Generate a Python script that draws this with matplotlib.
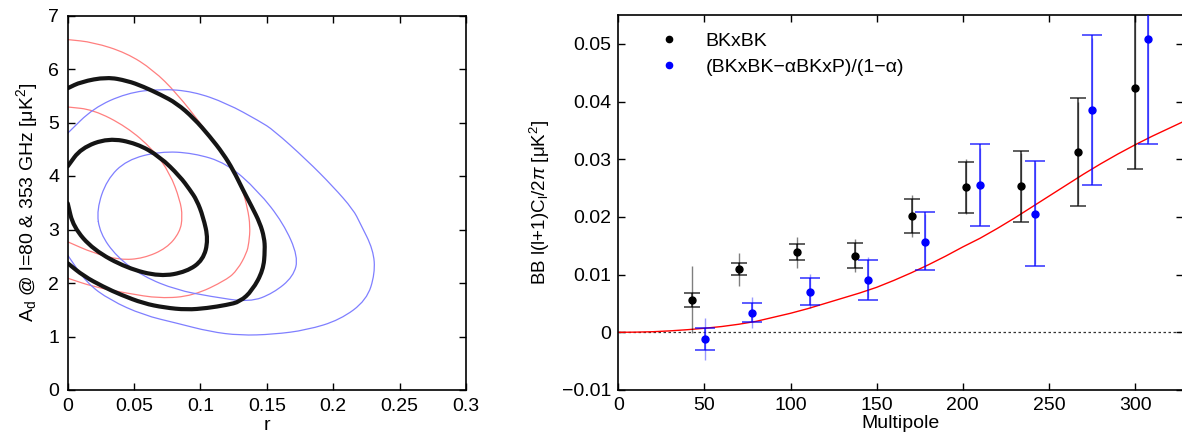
import numpy as np
import matplotlib
matplotlib.use("Agg")
import matplotlib.pyplot as plt
from matplotlib.path import Path
from matplotlib.patches import PathPatch

plt.rcParams['font.family'] = ['Liberation Sans', 'DejaVu Sans']
plt.rcParams['mathtext.fontset'] = 'custom'
plt.rcParams['mathtext.rm'] = 'Liberation Sans'
plt.rcParams['mathtext.it'] = 'Liberation Sans:italic'
plt.rcParams['mathtext.bf'] = 'Liberation Sans:bold'

# ---------------- Left panel: contours (r, A_d) traced ----------------
black_outer_r = [0, 0.010, 0.0294, 0.045, 0.057, 0.070, 0.082, 0.095, 0.107, 0.117, 0.1247, 0.132, 0.1386,
                 0.1448, 0.148, 0.1486, 0.1473, 0.139, 0.1298, 0.1198, 0.105, 0.0896, 0.073, 0.057, 0.040,
                 0.0268, 0.012, 0]
black_outer_A = [5.64, 5.76, 5.85, 5.78, 5.67, 5.52, 5.36, 5.08, 4.74, 4.42, 4.11, 3.74, 3.43,
                 3.12, 2.85, 2.62, 2.24, 1.86, 1.65, 1.59, 1.53, 1.50, 1.54, 1.62, 1.78,
                 1.93, 2.13, 2.37]

black_inner_r = [0, 0.010, 0.0306, 0.052, 0.0695, 0.0846, 0.0921, 0.0972, 0.102, 0.1059, 0.102, 0.0896,
                 0.0695, 0.0444, 0.0193, 0.0042, 0]
black_inner_A = [4.18, 4.52, 4.71, 4.61, 4.36, 3.99, 3.74, 3.55, 3.24, 2.81, 2.43, 2.21,
                 2.12, 2.28, 2.62, 3.05, 3.49]

red_outer_r = [0, 0.0193, 0.0444, 0.0645, 0.082, 0.102, 0.1198, 0.131, 0.1355, 0.1375, 0.1365, 0.1348,
               0.128, 0.1198, 0.0946, 0.0695, 0.0444, 0.0193, 0]
red_outer_A = [6.55, 6.50, 6.30, 5.98, 5.55, 4.92, 4.30, 3.80, 3.40, 3.05, 2.75, 2.56,
               2.25, 2.06, 1.76, 1.71, 1.81, 1.93, 2.09]

red_inner_r = [0, 0.0193, 0.0444, 0.0645, 0.077, 0.0846, 0.0865, 0.0845, 0.0746, 0.057, 0.0394, 0.0193, 0]
red_inner_A = [5.29, 5.24, 4.92, 4.49, 4.05, 3.55, 3.24, 2.95, 2.65, 2.46, 2.43, 2.56, 2.77]

blue_outer_r = [0, 0.0193, 0.0444, 0.0695, 0.0946, 0.1198, 0.1448, 0.1549, 0.180, 0.200, 0.2151, 0.2202,
                0.2302, 0.2315, 0.2252, 0.2051, 0.180, 0.1549, 0.1298, 0.1072, 0.082, 0.057, 0.0319,
                0.0143, 0]
blue_outer_A = [4.80, 5.27, 5.55, 5.63, 5.58, 5.36, 5.02, 4.86, 4.30, 3.80, 3.37, 3.12,
                2.62, 2.18, 1.68, 1.31, 1.12, 1.04, 1.02, 1.09, 1.25, 1.40, 1.68,
                2.00, 2.52]

blue_inner_r = [0.0218, 0.0294, 0.0444, 0.0695, 0.0946, 0.1198, 0.1435, 0.1624, 0.1737, 0.170, 0.1549,
                0.1370, 0.1072, 0.082, 0.057, 0.0369, 0.0243]
blue_inner_A = [3.37, 3.93, 4.30, 4.46, 4.43, 4.24, 3.72, 3.12, 2.49, 2.12, 1.81,
                1.64, 1.75, 1.87, 2.12, 2.49, 2.93]

left_xticks = [0, 0.05, 0.1, 0.15, 0.2, 0.25, 0.3]
left_xticklabels = ['0', '0.05', '0.1', '0.15', '0.2', '0.25', '0.3']
left_yticks = [0, 1, 2, 3, 4, 5, 6, 7]

# ---------------- Right panel: bandpowers ----------------
bk_ell = [42.5, 69.8, 103.7, 137.3, 170.3, 202.0, 234.0, 266.8, 299.8]
bk_val = [0.00554, 0.0110, 0.01384, 0.01326, 0.02013, 0.02514, 0.02532, 0.0312, 0.04227]
bk_cap_hi = [0.00675, 0.0120, 0.01528, 0.0154, 0.02318, 0.02958, 0.03143, 0.0406, 0.0570]
bk_cap_lo = [0.00433, 0.0100, 0.01246, 0.01113, 0.01713, 0.02065, 0.0192, 0.0219, 0.02826]
bk_thin_hi = [0.01153, 0.0138, 0.01644, 0.01615, 0.02388, 0.0300, 0.0310, 0.0400, 0.0565]
bk_thin_lo = [-0.0002, 0.0081, 0.01119, 0.01038, 0.01644, 0.0205, 0.0195, 0.0222, 0.0285]

bl_ell = [50.6, 77.9, 111.5, 145.2, 178.1, 210.0, 242.0, 275.0, 307.6]
bl_val = [-0.00115, 0.00334, 0.00698, 0.00905, 0.01574, 0.02555, 0.02059, 0.03847, 0.05087]
bl_cap_hi = [0.00081, 0.00502, 0.00934, 0.01251, 0.02082, 0.0327, 0.02976, 0.05156, 0.0600]
bl_cap_lo = [-0.0030, 0.00173, 0.00467, 0.00565, 0.01073, 0.0184, 0.01148, 0.02549, 0.03258]
bl_thin_hi = [0.00254, 0.00617, 0.0101, 0.0131, 0.0205, 0.0320, 0.0295, 0.0510, 0.0600]
bl_thin_lo = [-0.0048, 0.0007, 0.0042, 0.0060, 0.0110, 0.0187, 0.0118, 0.0258, 0.0330]

theory_ell = [0, 10, 20, 30, 40, 50, 60, 70, 80, 90, 100, 110, 120, 130, 140, 150, 160, 170, 180, 190,
              200, 210, 220, 230, 240, 250, 260, 270, 280, 290, 300, 310, 320, 330]
theory_val = [0, 0.00003, 0.0001, 0.00025, 0.00045, 0.0007, 0.0010, 0.0014, 0.0019, 0.0026, 0.0033,
              0.0041, 0.0050, 0.0059, 0.0068, 0.0078, 0.0090, 0.0103, 0.0117, 0.0132, 0.0148, 0.0163,
              0.0180, 0.0198, 0.0217, 0.0236, 0.0255, 0.0274, 0.0292, 0.0309, 0.0325, 0.0340, 0.0354,
              0.0368]

right_xticks = [0, 50, 100, 150, 200, 250, 300]
right_yticks = [-0.01, 0, 0.01, 0.02, 0.03, 0.04, 0.05]
right_yticklabels = ['\u22120.01', '0', '0.01', '0.02', '0.03', '0.04', '0.05']

legend_labels = ['BKxBK', '(BKxBK\u2212\u03b1BKxP)/(1\u2212\u03b1)']


def smooth_path(xs, ys, closed=False):
    """Quadratic-Bezier path through traced vertices (rendered by matplotlib)."""
    P = np.column_stack([xs, ys]).astype(float)
    n = len(P)
    verts, codes = [], []
    if closed:
        M = (P + np.roll(P, -1, axis=0)) / 2.0
        verts.append(M[-1]); codes.append(Path.MOVETO)
        for i in range(n):
            verts += [P[i], M[i]]
            codes += [Path.CURVE3, Path.CURVE3]
    else:
        M = (P[:-1] + P[1:]) / 2.0
        verts += [P[0], M[0]]; codes += [Path.MOVETO, Path.LINETO]
        for i in range(1, n - 1):
            verts += [P[i], M[i]]
            codes += [Path.CURVE3, Path.CURVE3]
        verts.append(P[-1]); codes.append(Path.LINETO)
    return Path(verts, codes)


def draw_contour(ax, xs, ys, color, lw, closed=False):
    patch = PathPatch(smooth_path(xs, ys, closed), facecolor='none', edgecolor=color, lw=lw,
                      joinstyle='round', capstyle='round')
    ax.add_patch(patch)


# ---------------- Figure ----------------
fig = plt.figure(figsize=(11.82, 4.41), dpi=100)
axL = fig.add_axes([67.7 / 1182, 51 / 441, 398.3 / 1182, 374.5 / 441])
axR = fig.add_axes([618.3 / 1182, 51 / 441, 565 / 1182, 375 / 441])

draw_contour(axL, red_outer_r, red_outer_A, '#ff7f7f', 0.9)
draw_contour(axL, red_inner_r, red_inner_A, '#ff7f7f', 0.9)
draw_contour(axL, blue_outer_r, blue_outer_A, '#7f7fff', 0.9)
draw_contour(axL, blue_inner_r, blue_inner_A, '#7f7fff', 0.9, closed=True)
draw_contour(axL, black_outer_r, black_outer_A, '#151515', 3.0)
draw_contour(axL, black_inner_r, black_inner_A, '#151515', 3.0)

axL.set_xlim(0, 0.3)
axL.set_ylim(0, 7)
axL.set_xticks(left_xticks)
axL.set_xticklabels(left_xticklabels)
axL.set_yticks(left_yticks)
axL.tick_params(direction='in', top=True, right=True, length=5, width=1, labelsize=14, pad=6)
axL.set_xlabel('r', fontsize=14, labelpad=1)
axL.set_ylabel('A$_{\\rm d}$ @ l=80 & 353 GHz [\u03bcK$^2$]', fontsize=14, labelpad=6)
for s in axL.spines.values():
    s.set_linewidth(1.2)

# Right panel
axR.axhline(0, color='#333333', ls=(0, (2, 2)), lw=0.9, zorder=1)
axR.plot(theory_ell, theory_val, color='red', lw=1.0, zorder=2)

bk_val_a = np.array(bk_val)
bl_val_a = np.array(bl_val)
axR.errorbar(bk_ell, bk_val, yerr=[bk_val_a - np.array(bk_thin_lo), np.array(bk_thin_hi) - bk_val_a],
             fmt='none', ecolor='black', elinewidth=1.0, alpha=0.5, capsize=0, zorder=3)
axR.errorbar(bk_ell, bk_val, yerr=[bk_val_a - np.array(bk_cap_lo), np.array(bk_cap_hi) - bk_val_a],
             fmt='none', ecolor='black', elinewidth=1.1, capsize=6, capthick=1.1, alpha=0.8, zorder=3)
axR.errorbar(bl_ell, bl_val, yerr=[bl_val_a - np.array(bl_thin_lo), np.array(bl_thin_hi) - bl_val_a],
             fmt='none', ecolor='blue', elinewidth=1.0, alpha=0.4, capsize=0, zorder=3)
axR.errorbar(bl_ell, bl_val, yerr=[bl_val_a - np.array(bl_cap_lo), np.array(bl_cap_hi) - bl_val_a],
             fmt='none', ecolor='blue', elinewidth=1.2, capsize=7, capthick=1.2, alpha=0.75, zorder=3)
h1, = axR.plot(bk_ell, bk_val, 'o', color='black', ms=5, zorder=4, label=legend_labels[0])
h2, = axR.plot(bl_ell, bl_val, 'o', color='blue', ms=5, zorder=4, label=legend_labels[1])

axR.set_xlim(0, 328)
axR.set_ylim(-0.01, 0.055)
axR.set_xticks(right_xticks)
axR.set_yticks(right_yticks)
axR.set_yticklabels(right_yticklabels)
axR.tick_params(direction='in', top=True, right=True, length=5, width=1, labelsize=14, pad=5)
axR.set_xlabel('Multipole', fontsize=14, labelpad=1)
axR.set_ylabel('BB l(l+1)C$_{\\rm l}$/2$\\pi$ [\u03bcK$^2$]', fontsize=13.5, labelpad=7)
for s in axR.spines.values():
    s.set_linewidth(1.2)

axR.legend(handles=[h1, h2], loc='upper left', frameon=False, fontsize=14, handlelength=0.6,
           handletextpad=1.6, borderaxespad=0.0, bbox_to_anchor=(0.065, 0.975), labelspacing=0.45,
           markerscale=0.9)

fig.savefig('out.png', dpi=100)
